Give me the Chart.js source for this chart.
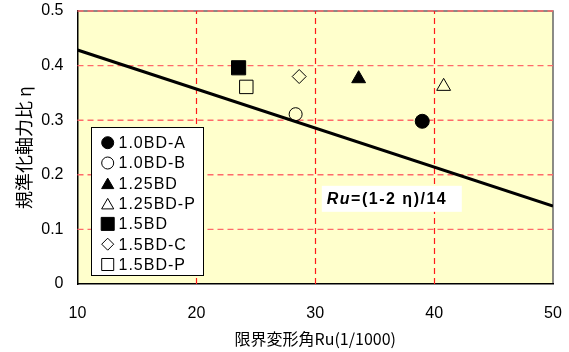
<!DOCTYPE html>
<html><head><meta charset="utf-8">
<script src="https://cdn.jsdelivr.net/npm/chart.js@4/dist/chart.umd.min.js"></script>
<style>html,body{margin:0;padding:0;background:#fff}#wrap{width:569px;height:352px}</style>
</head><body><div id="wrap"><canvas id="c" width="569" height="352"></canvas></div>
<script>
// ---- data ----
const seriesLabels = ['1.0BD-A','1.0BD-B','1.25BD','1.25BD-P','1.5BD','1.5BD-C','1.5BD-P'];
const seriesRu  = [39.0, 28.35, 33.65, 40.8, 23.55, 28.65, 24.2];
const seriesEta = [0.298, 0.311, 0.376, 0.362, 0.396, 0.380, 0.361];
const xTicks = [10, 20, 30, 40, 50];
const yTicks = [0, 0.1, 0.2, 0.3, 0.4, 0.5];
const lineRu  = [10, 50];
const lineEta = [0.4286, 0.1429];
const xTitle = '限界変形角Ru(1/1000)';
const yTitle = '規準化軸力比 η';

// ---- styles ----
const markerStyles = [
  {shape:'circle',   filled:true,  r:7,   lr:6},
  {shape:'circle',   filled:false, r:6.5, lr:6},
  {shape:'triangle', filled:true,  r:8,   lr:7},
  {shape:'triangle', filled:false, r:8,   lr:7},
  {shape:'rect',     filled:true,  r:10,  lr:9.2},
  {shape:'rectRot',  filled:false, r:7,   lr:6},
  {shape:'rect',     filled:false, r:9.5, lr:8.5}
];
const FONT = '"Liberation Sans", Arial, "Noto Sans CJK JP", sans-serif';
const JFONT = '"Noto Sans CJK JP", "Liberation Sans", sans-serif';

const datasets = seriesLabels.map((lab, i) => ({
  label: lab,
  data: [{x: seriesRu[i], y: seriesEta[i]}],
  showLine: false,
  pointStyle: markerStyles[i].shape,
  pointRadius: markerStyles[i].r,
  pointHoverRadius: markerStyles[i].r,
  pointBackgroundColor: markerStyles[i].filled ? '#000' : 'rgba(0,0,0,0)',
  pointBorderColor: '#000',
  pointBorderWidth: 1,
  order: 1
}));
datasets.push({
  label: 'Ru=(1-2η)/14',
  data: lineRu.map((x, i) => ({x: x, y: lineEta[i]})),
  showLine: true,
  borderColor: '#000',
  borderWidth: 3,
  pointRadius: 0,
  order: 2
});

const bgPlugin = {
  id: 'bg',
  beforeDraw(chart) {
    const {ctx, chartArea: a} = chart;
    ctx.save();
    ctx.fillStyle = '#fff';
    ctx.fillRect(0, 0, chart.width, chart.height);
    ctx.fillStyle = '#FFFFCC';
    ctx.fillRect(a.left, a.top, a.right - a.left, a.bottom - a.top);
    ctx.strokeStyle = '#666';
    ctx.lineWidth = 1.5;
    ctx.beginPath();
    ctx.moveTo(a.left, a.top);
    ctx.lineTo(a.right, a.top);
    ctx.lineTo(a.right, a.bottom);
    ctx.stroke();
    ctx.restore();
  },
  beforeDatasetsDraw(chart) {
    const {ctx, chartArea: a, scales} = chart;
    ctx.save();
    ctx.setLineDash([6, 4]);
    ctx.strokeStyle = '#FF1a1a';
    ctx.lineWidth = 1.2;
    xTicks.forEach(v => {
      if (v === scales.x.min || v === scales.x.max) return;
      const px = Math.round(scales.x.getPixelForValue(v)) + 0.5;
      ctx.beginPath();
      ctx.moveTo(px, a.bottom);
      ctx.lineTo(px, a.top);
      ctx.stroke();
    });
    ctx.strokeStyle = '#FF6A6A';
    ctx.lineWidth = 1.4;
    yTicks.forEach(v => {
      if (v === scales.y.min) return;
      const py = scales.y.getPixelForValue(v);
      ctx.beginPath();
      ctx.moveTo(a.left, py);
      ctx.lineTo(a.right, py);
      ctx.stroke();
    });
    ctx.restore();
  }
};

const overlayPlugin = {
  id: 'overlay',
  afterDraw(chart) {
    const {ctx, chartArea: a, scales} = chart;
    const H = Chart.helpers;
    // formula annotation
    ctx.save();
    const ax = scales.x.getPixelForValue(30.55);
    const ay = scales.y.getPixelForValue(0.156);
    ctx.fillStyle = '#fff';
    ctx.fillRect(ax, ay - 13, 140, 26);
    ctx.fillStyle = '#000';
    ctx.textBaseline = 'middle';
    ctx.letterSpacing = '1.5px';
    ctx.font = 'italic bold 16px ' + FONT;
    let tx = ax + 5;
    ctx.fillText('Ru', tx, ay + 1);
    tx += ctx.measureText('Ru').width;
    ctx.font = 'bold 16px ' + FONT;
    ctx.fillText('=(1-2 η)/14', tx, ay + 1);
    ctx.restore();

    // legend
    ctx.save();
    const lx = a.left + 13.5, ly = a.top + 116, lw = 112, lh = 148;
    ctx.fillStyle = '#fff';
    ctx.fillRect(lx, ly, lw, lh);
    ctx.strokeStyle = '#000';
    ctx.lineWidth = 1;
    ctx.strokeRect(lx + 0.5, ly + 0.5, lw, lh);
    ctx.font = '16px ' + FONT;
    ctx.letterSpacing = '1px';
    ctx.textBaseline = 'middle';
    seriesLabels.forEach((lab, i) => {
      const cy = ly + 15.7 + i * 20.3;
      const cx = lx + 16.7;
      const m = markerStyles[i];
      ctx.save();
      ctx.fillStyle = m.filled ? '#000' : 'rgba(0,0,0,0)';
      ctx.strokeStyle = '#000';
      ctx.lineWidth = 1;
      const yOff = m.shape === 'triangle' ? 1.8 : 0;
      H.drawPoint(ctx, {pointStyle: m.shape, rotation: 0, borderWidth: 1, radius: m.lr}, cx, cy + yOff);
      ctx.restore();
      ctx.fillStyle = '#000';
      ctx.fillText(lab, lx + 27.5, cy + 1);
    });
    ctx.restore();
  }
};

new Chart(document.getElementById('c'), {
  type: 'scatter',
  data: {datasets},
  options: {
    responsive: false,
    animation: false,
    devicePixelRatio: 1,
    layout: {padding: {left: 0, top: 11, right: 16, bottom: 0}},
    plugins: {legend: {display: false}, tooltip: {enabled: false}},
    scales: {
      x: {
        type: 'linear', min: 10, max: 50,
        afterFit(s) { s.height = 68; s.paddingLeft = 0; s.paddingRight = 0; },
        afterBuildTicks(s) { s.ticks = xTicks.map(v => ({value: v})); },
        ticks: {color: '#000', font: {family: FONT, size: 16}, padding: 20, maxRotation: 0},
        border: {display: true, color: '#000', width: 1.5},
        grid: {display: false, drawTicks: false},
        title: {display: true, text: xTitle, color: '#000', font: {family: JFONT, size: 16}, padding: {top: 0, bottom: 3}}
      },
      y: {
        type: 'linear', min: 0, max: 0.5,
        afterFit(s) { s.width = 77.5; s.paddingTop = 0; s.paddingBottom = 0; },
        afterBuildTicks(s) { s.ticks = yTicks.map(v => ({value: v})); },
        ticks: {color: '#000', font: {family: FONT, size: 16}, padding: 14, callback: v => String(Math.round(v * 10) / 10)},
        border: {display: true, color: '#000', width: 1.5},
        grid: {display: false, drawTicks: false},
        title: {display: true, text: yTitle, color: '#000', font: {family: JFONT, size: 18}, padding: {top: 13, bottom: 6}}
      }
    }
  },
  plugins: [bgPlugin, overlayPlugin]
});
</script>
</body></html>
